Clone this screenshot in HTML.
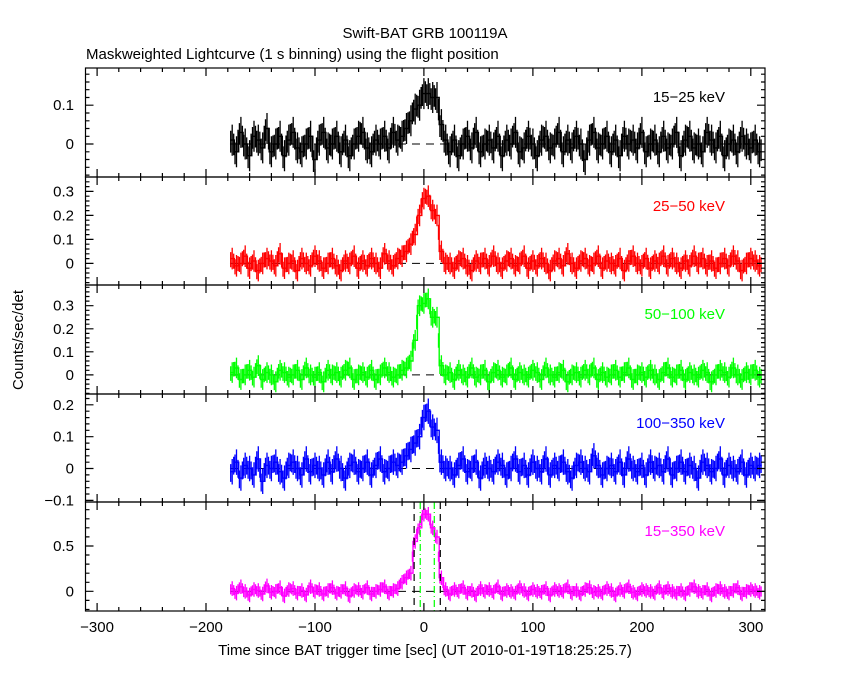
<!DOCTYPE html>
<html><head><meta charset="utf-8"><style>
html,body{margin:0;padding:0;background:#fff;}
svg{display:block;font-family:"Liberation Sans",sans-serif;}
</style></head><body>
<svg id="chart" width="850" height="680" viewBox="0 0 850 680">
<text x="425" y="38" font-size="15" text-anchor="middle">Swift-BAT GRB 100119A</text>
<text x="86" y="59" font-size="15">Maskweighted Lightcurve (1 s binning) using the flight position</text>
<text transform="translate(23,340) rotate(-90)" font-size="15" text-anchor="middle">Counts/sec/det</text>
<text x="425" y="655" font-size="15" text-anchor="middle">Time since BAT trigger time [sec] (UT 2010-01-19T18:25:25.7)</text>
<g id="plots"></g>
</svg>
<script>
const binStart = -178;
const binWidth = 4;
const xTicks = [-300, -200, -100, 0, 100, 200, 300];
const bandLabels = ["15\u221225 keV", "25\u221250 keV", "50\u2212100 keV", "100\u2212350 keV", "15\u2212350 keV"];
const bandErrors = [0.04, 0.045, 0.045, 0.04, 0.08];
const yTicks1 = [0, 0.1];
const yTicks2 = [0, 0.1, 0.2, 0.3];
const yTicks3 = [0, 0.1, 0.2, 0.3];
const yTicks4 = [-0.1, 0, 0.1, 0.2];
const yTicks5 = [0, 0.5];
const yTickLabels1 = ["0", "0.1"];
const yTickLabels2 = ["0", "0.1", "0.2", "0.3"];
const yTickLabels3 = ["0", "0.1", "0.2", "0.3"];
const yTickLabels4 = ["\u22120.1", "0", "0.1", "0.2"];
const yTickLabels5 = ["0", "0.5"];
const rates1 = [1,-2,3,0,-3,2,1,-1,4,-2,0,2,-3,1,3,-1,-2,0,2,-4,1,3,-1,0,2,-2,1,-3,0,2,3,-1,-2,1,0,2,-1,3,1,
 2,4,6,9,10,13,13,12,12,5,1,
 -2,1,-3,0,2,-1,3,-2,0,1,-1,2,-3,1,0,3,-2,-1,2,0,-3,1,2,-1,0,3,-2,1,-1,2,0,-4,1,3,-1,0,2,-2,1,-3,2,0,1,-1,3,-2,0,1,-2,2,-1,0,3,-3,1,2,-1,0,-2,3,1,-1,2,-3,0,1,-2,2,0,-1,1,-2];
const rates2 = [2,-1,0,3,-2,1,-3,0,2,1,-1,4,-2,0,1,-3,2,0,-1,3,1,-2,0,2,-1,-3,1,0,3,-2,1,-1,2,0,-2,4,1,-1,2,
 3,5,8,12,20,27,28,22,20,5,0,
 0,-2,1,2,-1,-3,1,0,2,-1,3,0,-2,1,2,-1,0,3,-2,1,-1,2,0,-3,1,2,-1,4,0,-2,1,2,-1,0,3,-2,1,0,-1,2,-3,1,3,0,-1,2,-2,1,0,3,-1,2,0,-2,1,-1,3,0,2,-1,1,-2,0,2,-1,3,1,-3,0,2,1,-1];
const rates3 = [1,3,-2,0,2,-1,4,-2,1,0,-3,2,1,-1,0,2,-2,3,0,-1,1,-3,2,0,1,-1,2,3,-2,0,1,-1,2,-2,0,3,1,-1,0,
 2,3,6,15,30,31,33,25,25,4,0,
 1,-2,2,0,-1,3,-1,0,2,-3,1,2,-1,0,3,-2,1,0,-1,2,1,-2,3,0,-1,1,2,-3,0,1,-1,2,0,3,-2,1,-1,0,2,-1,1,3,-2,0,1,-1,2,0,-2,1,3,-1,0,2,-2,1,0,-1,2,1,-3,0,2,1,-1,3,0,-2,1,0,2,-1];
const rates4 = [-1,2,-3,1,0,-2,3,-4,1,0,2,-1,-3,1,2,0,-2,3,-1,1,0,-2,2,-1,3,0,-3,1,2,-1,0,2,-2,1,3,-1,0,2,1,
 2,4,6,8,10,16,18,13,12,2,0,
 0,-2,1,3,-1,0,2,-3,1,0,-1,2,1,-2,0,3,-1,1,-2,2,0,-1,3,-2,1,0,2,-1,-3,1,2,0,-1,4,1,-2,0,1,-1,2,-2,3,0,-1,1,-2,2,0,1,-1,3,-2,0,2,-1,1,0,-3,2,1,-1,0,3,-2,1,0,-1,2,-2,1,0,1];
const rates5 = [3,-2,5,0,-4,2,1,-3,6,-1,0,4,-5,2,3,-2,1,-4,5,0,2,-3,1,4,-2,0,3,-5,1,2,-1,4,-3,0,2,5,-2,1,3,
 10,15,20,55,70,85,85,70,60,15,2,
 -3,2,0,4,-2,1,-4,3,0,2,-1,5,-3,1,0,-2,4,1,-3,2,0,-1,3,-4,2,1,0,5,-2,1,-3,2,4,-1,0,-2,3,1,-4,2,0,5,-1,-3,2,1,0,-2,4,-1,3,0,-2,1,-3,2,5,0,-1,2,-4,1,3,0,-2,1,4,-3,0,2,1,-1];
const t90Lines = [-9, 15];
const t50Lines = [-3.4, 9.5];

const NS = "http://www.w3.org/2000/svg";
const L = 85.5, R = 765;
const xMin = -310.6, xMax = 313;
const panelTops = [68, 177, 285, 394, 502, 611];
const yDomains = [[-0.085, 0.196], [-0.09, 0.36], [-0.083, 0.39], [-0.105, 0.234], [-0.217, 0.985]];
const minorSteps = [0.02, 0.02, 0.02, 0.02, 0.1];
const colors = ["#000000", "#ff0000", "#00ff00", "#0000ff", "#ff00ff"];
const allTicks = [yTicks1, yTicks2, yTicks3, yTicks4, yTicks5];
const allLabels = [yTickLabels1, yTickLabels2, yTickLabels3, yTickLabels4, yTickLabels5];
const allRates = [rates1, rates2, rates3, rates4, rates5];
const g = document.getElementById("plots");
function xs(t) { return L + (t - xMin) / (xMax - xMin) * (R - L); }
function mk(tag, attrs, parent) {
  const e = document.createElementNS(NS, tag);
  for (const k in attrs) e.setAttribute(k, attrs[k]);
  (parent || g).appendChild(e);
  return e;
}
for (let p = 0; p < 5; p++) {
  const top = panelTops[p], bot = panelTops[p + 1];
  const [d0, d1] = yDomains[p];
  const ys = v => bot - (v - d0) / (d1 - d0) * (bot - top);
  const pg = mk("g", {});
  
  
  const rates = allRates[p];
  const err = bandErrors[p];
  let path = "", errPath = "";
  for (let i = 0; i < rates.length; i++) {
    const v = rates[i] / 100;
    const t0 = binStart + i * binWidth;
    const x0 = xs(t0), x1 = xs(t0 + binWidth), xm = xs(t0 + binWidth / 2);
    const vn = i + 1 < rates.length ? rates[i + 1] / 100 : v;
    path += (i === 0 ? "M" : "L") + x0.toFixed(1) + "," + ys(v).toFixed(1) + "L" + x1.toFixed(1) + "," + ys(v).toFixed(1);
    errPath += "M" + xm.toFixed(1) + "," + ys(v - err).toFixed(1) + "V" + ys(v + err).toFixed(1);
    errPath += "M" + (xm - 1.5).toFixed(1) + "," + ys(v + err * 0.6).toFixed(1) + "V" + ys(v - err * 0.8).toFixed(1);
    errPath += "M" + (xm + 1.5).toFixed(1) + "," + ys((v + vn) / 2 + err * 0.8).toFixed(1) + "V" + ys((v + vn) / 2 - err * 0.6).toFixed(1);
  }
  const zl = mk("line", {x1: xs(binStart), x2: R, y1: ys(0), y2: ys(0), stroke: "#000", "stroke-width": 1, "stroke-dasharray": "8,6"}, pg);
  
  
  const ep = mk("path", {d: errPath, stroke: colors[p], "stroke-width": 1.3, fill: "none"}, pg);
  
  
  const dp = mk("path", {d: path, stroke: colors[p], "stroke-width": 1.4, fill: "none"}, pg);
  
  
  if (p === 4) {
    for (const t of t90Lines) {
      const l = mk("line", {x1: xs(t), x2: xs(t), y1: top, y2: bot, stroke: "#000", "stroke-width": 1.2, "stroke-dasharray": "7,5"}, pg);
      
      
    }
    for (const t of t50Lines) {
      const l = mk("line", {x1: xs(t), x2: xs(t), y1: top, y2: bot, stroke: "#00ff00", "stroke-width": 1.2, "stroke-dasharray": "7,3,1,3"}, pg);
      
      
    }
  }
  const fr = mk("rect", {x: L, y: top, width: R - L, height: bot - top, fill: "none", stroke: "#000", "stroke-width": 1.2}, pg);
  
  
  let tk = "";
  const ms = minorSteps[p];
  for (let v = Math.ceil(d0 / ms) * ms; v <= d1; v += ms) {
    const y = ys(v).toFixed(1);
    tk += "M" + L + "," + y + "h4M" + R + "," + y + "h-4";
  }
  const yt = allTicks[p], yl = allLabels[p];
  for (let k = 0; k < yt.length; k++) {
    const y = ys(yt[k]);
    tk += "M" + L + "," + y.toFixed(1) + "h8M" + R + "," + y.toFixed(1) + "h-8";
    const tx = mk("text", {x: 74, y: y + 5, "font-size": 15, "text-anchor": "end"}, pg);
    tx.textContent = yl[k];
    
    
  }
  for (let t = -300; t <= 300; t += 20) {
    const x = xs(t).toFixed(1);
    const len = (t % 100 === 0) ? 8 : 4;
    tk += "M" + x + "," + top + "v" + len + "M" + x + "," + bot + "v-" + len;
  }
  const tp = mk("path", {d: tk, stroke: "#000", "stroke-width": 1.2, fill: "none"}, pg);
  
  
  const bl = mk("text", {x: 725, y: top + 34, "font-size": 15, "text-anchor": "end", fill: colors[p]}, pg);
  bl.textContent = bandLabels[p];
  
  
}
for (const t of xTicks) {
  const tx = mk("text", {x: xs(t), y: 632, "font-size": 15, "text-anchor": "middle"});
  tx.textContent = t < 0 ? "\u2212" + (-t) : String(t);
  
  
}
</script>
</body></html>
